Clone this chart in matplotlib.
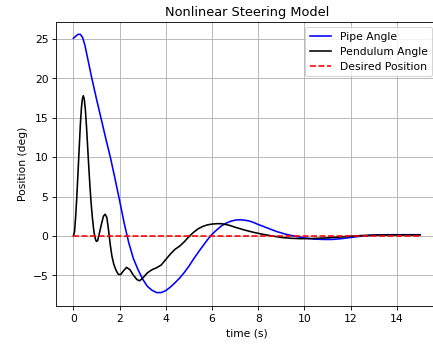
import matplotlib
matplotlib.use("Agg")
import matplotlib.pyplot as plt

# Pipe angle (deg) readings
pipe_t = [0, 0.1, 0.2, 0.3, 0.4, 0.5, 0.6, 0.7, 0.8, 1.0, 1.2, 1.4, 1.6, 1.8, 2.0, 2.2, 2.4, 2.6, 2.8,
          3.0, 3.2, 3.4, 3.6, 3.8, 4.0, 4.2, 4.4, 4.6, 4.8, 5.0, 5.2, 5.4, 5.6, 5.8,
          6.0, 6.2, 6.4, 6.6, 6.8, 7.0, 7.2, 7.4, 7.6, 7.8, 8.0, 8.4, 8.8, 9.2, 9.6,
          10.0, 10.4, 10.8, 11.2, 11.6, 12.0, 12.4, 12.8, 13.2, 13.6, 14.0, 14.5, 15.0]
pipe_v = [25.1, 25.35, 25.6, 25.6, 25.2, 24.2, 22.8, 21.4, 20.0, 17.4, 14.9, 12.4, 10.0, 7.3, 4.5, 1.6, -0.9, -2.9, -4.3,
          -5.5, -6.4, -6.9, -7.2, -7.2, -6.95, -6.5, -5.95, -5.35, -4.65, -3.85, -2.95, -2.1, -1.3, -0.5,
          0.2, 0.75, 1.25, 1.6, 1.85, 2.0, 2.05, 2.0, 1.9, 1.7, 1.45, 1.0, 0.55, 0.2, -0.05,
          -0.25, -0.4, -0.45, -0.45, -0.35, -0.2, -0.05, 0.05, 0.12, 0.15, 0.15, 0.15, 0.15]

# Pendulum angle (deg) readings
pend_t = [0, 0.05, 0.1, 0.15, 0.2, 0.25, 0.3, 0.35, 0.39, 0.43, 0.47, 0.52, 0.57, 0.62, 0.67, 0.72,
          0.77, 0.82, 0.87, 0.92, 0.97, 1.0, 1.05, 1.1, 1.2, 1.3, 1.38, 1.45, 1.52, 1.6, 1.67, 1.75,
          1.85, 1.95, 2.05, 2.15, 2.3, 2.45, 2.6, 2.75, 2.86, 2.95, 3.05, 3.2, 3.4, 3.6, 3.8,
          4.0, 4.2, 4.4, 4.6, 4.8, 5.0, 5.2, 5.4, 5.6, 5.8, 6.0, 6.2, 6.4, 6.6, 6.8, 7.0,
          7.4, 7.8, 8.2, 8.6, 9.0, 9.4, 9.8, 10.2, 10.6, 11.0, 11.5, 12.0, 12.5, 13.0, 14.0, 15.0]
pend_v = [0, 0.5, 2.5, 5.0, 8.0, 11.0, 14.0, 16.3, 17.4, 17.8, 17.4, 16.0, 13.8, 11.2, 8.6, 6.2,
          4.1, 2.4, 1.0, 0.0, -0.55, -0.7, -0.6, 0.0, 1.3, 2.5, 2.75, 2.3, 0.8, -1.2, -2.6, -3.6,
          -4.4, -4.9, -4.9, -4.5, -4.0, -4.3, -5.0, -5.55, -5.7, -5.5, -5.2, -4.7, -4.3, -4.05, -3.7,
          -3.0, -2.3, -1.7, -1.3, -0.75, -0.1, 0.45, 0.9, 1.2, 1.4, 1.5, 1.55, 1.55, 1.45, 1.3, 1.1,
          0.75, 0.45, 0.2, 0.0, -0.2, -0.3, -0.35, -0.35, -0.3, -0.25, -0.15, -0.05, 0.05, 0.1, 0.12, 0.12]

# Desired position
des_t = [0, 15]
des_v = [0, 0]

DPI = 77
fig = plt.figure(figsize=(433.3 / DPI, 345.3 / DPI), dpi=DPI)
ax = fig.add_axes([56 / 433, 39 / 345, 381 / 433, 284 / 345])
ax.plot(pipe_t, pipe_v, color='blue', label='Pipe Angle')
ax.plot(pend_t, pend_v, color='black', label='Pendulum Angle')
ax.plot(des_t, des_v, color='red', linestyle='--', label='Desired Position')
ax.set_xlim(-0.75, 15.75)
ax.set_ylim(-8.9, 27.2)
ax.set_xticks([0, 2, 4, 6, 8, 10, 12, 14])
ax.set_title('Nonlinear Steering Model')
ax.set_xlabel('time (s)')
ax.set_ylabel('Position (deg)')
ax.grid(True)
ax.legend(loc='upper right')
fig.savefig('out.png', dpi=DPI)
